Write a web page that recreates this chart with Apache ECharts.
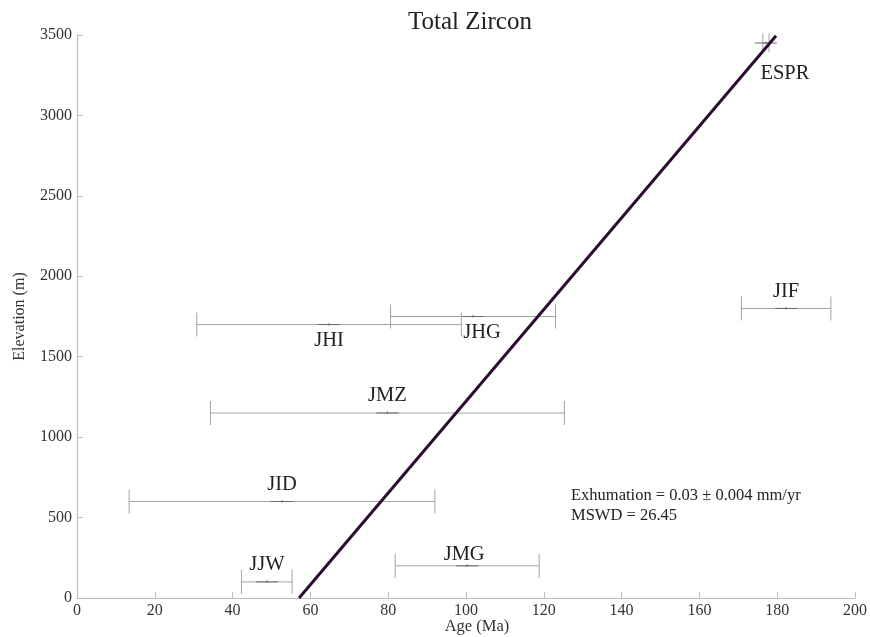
<!DOCTYPE html>
<html>
<head>
<meta charset="utf-8">
<script src="https://cdn.jsdelivr.net/npm/echarts@6/dist/echarts.min.js"></script>
<style>
  html, body { margin: 0; padding: 0; background: #fff; }
  #chart { width: 870px; height: 637px; }
</style>
</head>
<body>
<div id="chart"></div>
<script>
// Sample names, central ages (Ma), age uncertainties (Ma) and elevations (m)
const sampleNames = ['ESPR', 'JIF', 'JHG', 'JHI', 'JMZ', 'JID', 'JMG', 'JJW'];
const sampleAges  = [177.1, 182.3, 101.8, 64.8, 79.8, 52.7, 100.3, 48.8];
const ageErrors   = [0.8, 11.5, 21.2, 34.0, 45.5, 39.3, 18.5, 6.5];
const elevations  = [3450, 1800, 1750, 1700, 1150, 600, 200, 100];

// Age–elevation regression line end points
const fitAges = [57.1, 179.7];
const fitElevations = [0, 3495];

// Axis ticks
const xTicks = [0, 20, 40, 60, 80, 100, 120, 140, 160, 180, 200];
const yTicks = [0, 500, 1000, 1500, 2000, 2500, 3000, 3500];

const exhumationText = 'Exhumation = 0.03 \u00b1 0.004 mm/yr';
const mswdText = 'MSWD = 26.45';

const serif = '"Liberation Serif", "DejaVu Serif", serif';

// Label offsets (pixels) from each sample's centre point
const labelOffset = {
  ESPR: [19, 31],
  JHG: [9, 16],
  JHI: [0, 16],
  JMG: [-3, -11]
};

const points = sampleNames.map((n, i) => [sampleAges[i], elevations[i], ageErrors[i], n]);
const fitLine = fitAges.map((a, i) => [a, fitElevations[i]]);

const chart = echarts.init(document.getElementById('chart'), null, { renderer: 'canvas' });

chart.setOption({
  animation: false,
  backgroundColor: '#ffffff',
  textStyle: { fontFamily: serif },
  title: {
    text: 'Total Zircon',
    left: 403,
    top: 5,
    textStyle: { fontFamily: serif, fontSize: 25, fontWeight: 'normal', color: '#222' }
  },
  grid: { left: 77, right: 15, top: 35, bottom: 39, containLabel: false, outerBoundsMode: 'none' },
  xAxis: {
    type: 'value',
    min: xTicks[0],
    max: xTicks[xTicks.length - 1],
    interval: xTicks[1] - xTicks[0],
    name: 'Age (Ma)',
    nameLocation: 'middle',
    nameGap: 20,
    nameMoveOverlap: false,
    nameTextStyle: { fontFamily: serif, fontSize: 16.5, color: '#333', padding: [0, 0, 0, 22] },
    axisLine: { lineStyle: { color: '#bdbdbd', width: 1.2 } },
    axisTick: { inside: true, length: 6, lineStyle: { color: '#bdbdbd' } },
    axisLabel: { fontFamily: serif, fontSize: 16, color: '#333', margin: 5, formatter: v => String(v) },
    splitLine: { show: false }
  },
  yAxis: {
    type: 'value',
    min: yTicks[0],
    max: yTicks[yTicks.length - 1],
    interval: yTicks[1] - yTicks[0],
    name: 'Elevation (m)',
    nameLocation: 'middle',
    nameGap: 49,
    nameMoveOverlap: false,
    nameTextStyle: { fontFamily: serif, fontSize: 16, color: '#333' },
    axisLine: { show: true, lineStyle: { color: '#bdbdbd', width: 1.2 } },
    axisTick: { show: true, inside: true, length: 6, lineStyle: { color: '#bdbdbd' } },
    axisLabel: { fontFamily: serif, fontSize: 16, color: '#333', margin: 5, formatter: v => String(v) },
    splitLine: { show: false }
  },
  graphic: [
    {
      type: 'text',
      left: 571,
      top: 486,
      style: {
        text: exhumationText + '\n' + mswdText,
        fontFamily: serif,
        fontSize: 16.5,
        fill: '#222',
        lineHeight: 20
      }
    }
  ],
  series: [
    {
      type: 'custom',
      name: 'samples',
      data: points,
      encode: { x: 0, y: 1 },
      z: 2,
      renderItem: function (params, api) {
        const age = api.value(0), elev = api.value(1), err = api.value(2);
        const name = points[params.dataIndex][3];
        const left = api.coord([age - err, elev]);
        const right = api.coord([age + err, elev]);
        const c = api.coord([age, elev]);
        const capH = name === 'ESPR' ? 9.5 : 12;
        const barStyle = { stroke: '#a3a3a3', lineWidth: 1 };
        const off = labelOffset[name] || [0, -17];
        return {
          type: 'group',
          children: [
            { type: 'line', shape: { x1: left[0], y1: left[1], x2: right[0], y2: right[1] }, style: barStyle },
            { type: 'line', shape: { x1: left[0], y1: left[1] - capH, x2: left[0], y2: left[1] + capH }, style: barStyle },
            { type: 'line', shape: { x1: right[0], y1: right[1] - capH, x2: right[0], y2: right[1] + capH }, style: barStyle },
            { type: 'line', shape: { x1: c[0] - 11, y1: c[1], x2: c[0] + 11, y2: c[1] }, style: { stroke: '#6a6a6a', lineWidth: 1 } },
            { type: 'line', shape: { x1: c[0], y1: c[1] - 1.5, x2: c[0], y2: c[1] + 1 }, style: { stroke: '#6a6a6a', lineWidth: 1 } },
            {
              type: 'text',
              x: c[0] + off[0],
              y: c[1] + off[1],
              style: {
                text: name,
                fontFamily: serif,
                fontSize: 20.5,
                fill: '#222',
                align: 'center',
                verticalAlign: 'middle'
              }
            }
          ]
        };
      }
    },
    {
      type: 'line',
      name: 'fit',
      data: fitLine,
      showSymbol: false,
      z: 3,
      lineStyle: { color: '#2e0b33', width: 3 },
      silent: true
    }
  ]
});
</script>
</body>
</html>
